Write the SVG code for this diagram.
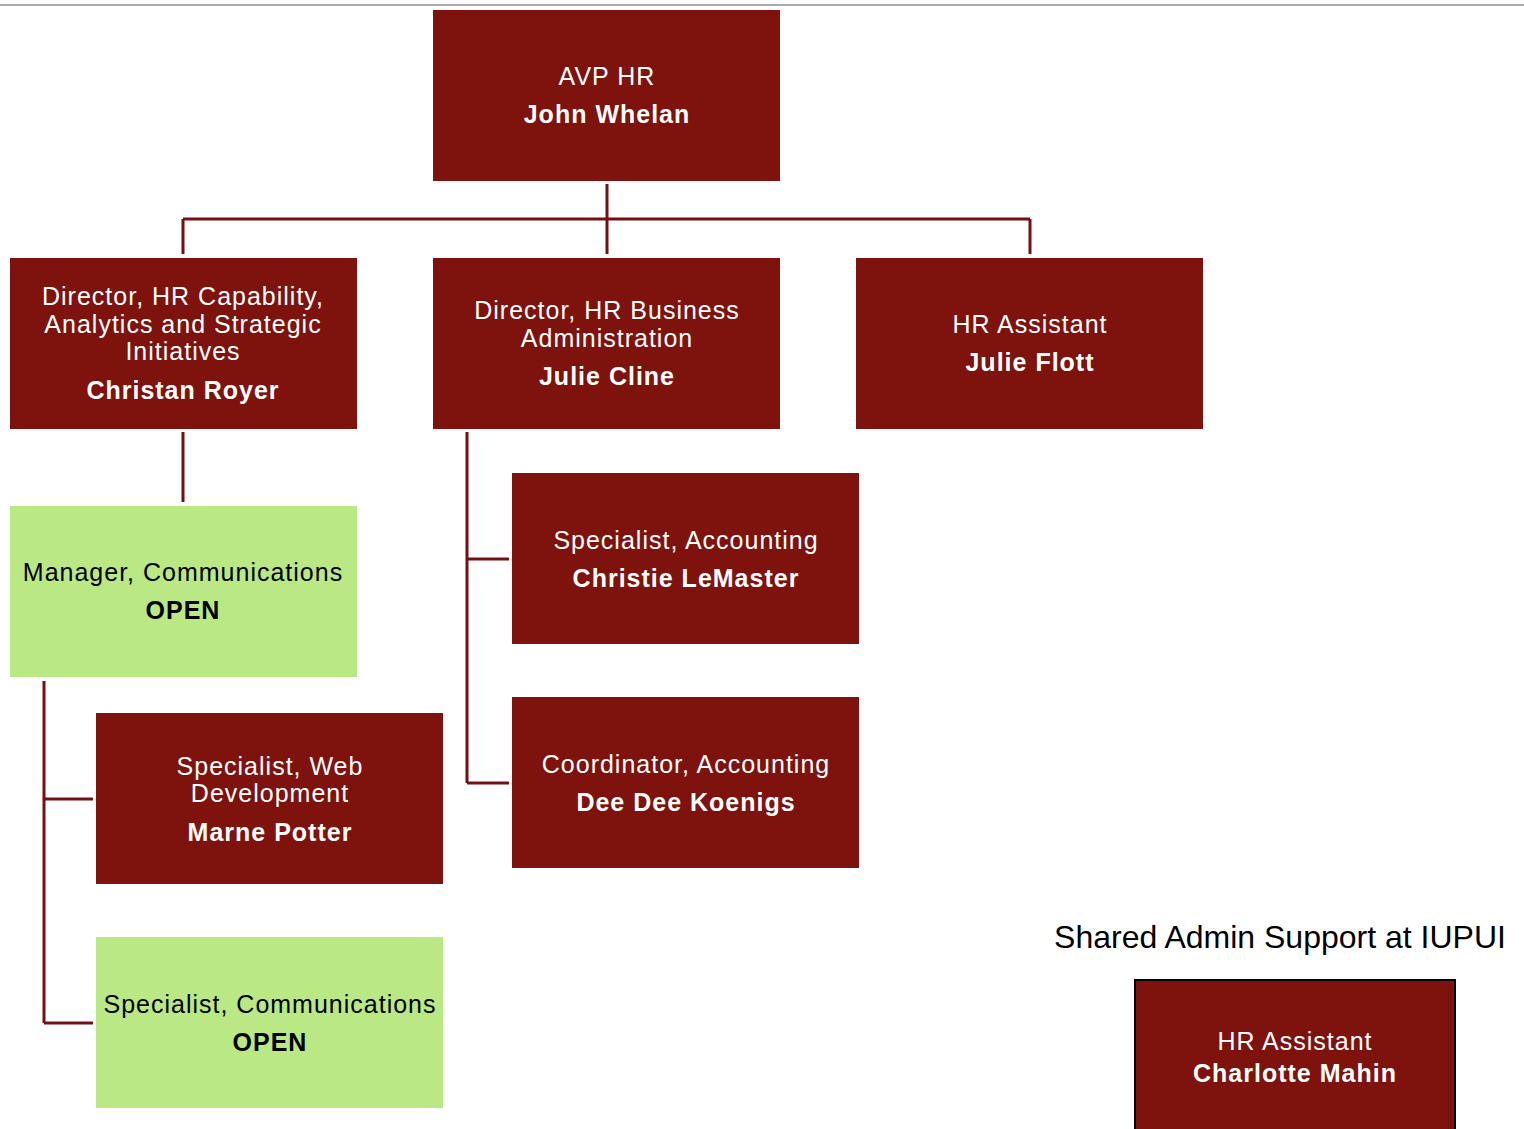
<svg xmlns="http://www.w3.org/2000/svg" width="1524" height="1129" viewBox="0 0 1524 1129">
<style>
.red{fill:#7E130E}
.green{fill:#B9E884}
.t{font-family:"Liberation Sans",Arial,sans-serif;font-size:25px;letter-spacing:1px;text-anchor:middle}
.w{fill:#fff}
.k{fill:#000}
.b{font-weight:bold}
.c{stroke:#741013;stroke-width:3;fill:none}
</style>
<rect x="0" y="4" width="1524" height="2" fill="#aaaaaa"/>
<g id="connectors">
<path class="c" d="M607 184V254M183 219H1030M183 219V254M1030 219V254"/>
<path class="c" d="M183 432V502"/>
<path class="c" d="M44 681V1023M44 799H93M44 1023H93"/>
<path class="c" d="M467 432V783M467 559H509M467 783H509"/>
</g>
<g id="avp">
<rect class="red" x="433" y="10" width="347" height="171"/>
<text class="t w" x="607" y="85">AVP HR</text>
<text class="t w b" x="607" y="123">John Whelan</text>
</g>
<g id="royer">
<rect class="red" x="10" y="258" width="347" height="171"/>
<text class="t w" x="183" y="305">Director, HR Capability,</text>
<text class="t w" x="183" y="333">Analytics and Strategic</text>
<text class="t w" x="183" y="360">Initiatives</text>
<text class="t w b" x="183" y="399">Christan Royer</text>
</g>
<g id="cline">
<rect class="red" x="433" y="258" width="347" height="171"/>
<text class="t w" x="607" y="319">Director, HR Business</text>
<text class="t w" x="607" y="347">Administration</text>
<text class="t w b" x="607" y="385">Julie Cline</text>
</g>
<g id="flott">
<rect class="red" x="856" y="258" width="347" height="171"/>
<text class="t w" x="1030" y="333">HR Assistant</text>
<text class="t w b" x="1030" y="371">Julie Flott</text>
</g>
<g id="mgr-comm">
<rect class="green" x="10" y="506" width="347" height="171"/>
<text class="t k" x="183" y="581">Manager, Communications</text>
<text class="t k b" x="183" y="619">OPEN</text>
</g>
<g id="potter">
<rect class="red" x="96" y="713" width="347" height="171"/>
<text class="t w" x="270" y="775">Specialist, Web</text>
<text class="t w" x="270" y="802">Development</text>
<text class="t w b" x="270" y="841">Marne Potter</text>
</g>
<g id="spec-comm">
<rect class="green" x="96" y="937" width="347" height="171"/>
<text class="t k" x="270" y="1013">Specialist, Communications</text>
<text class="t k b" x="270" y="1051">OPEN</text>
</g>
<g id="lemaster">
<rect class="red" x="512" y="473" width="347" height="171"/>
<text class="t w" x="686" y="549">Specialist, Accounting</text>
<text class="t w b" x="686" y="587">Christie LeMaster</text>
</g>
<g id="koenigs">
<rect class="red" x="512" y="697" width="347" height="171"/>
<text class="t w" x="686" y="773">Coordinator, Accounting</text>
<text class="t w b" x="686" y="811">Dee Dee Koenigs</text>
</g>
<text class="t k" x="1280" y="948" style="font-size:32px;letter-spacing:0">Shared Admin Support at IUPUI</text>
<g id="mahin">
<rect class="red" x="1135" y="980" width="320" height="160" stroke="#000" stroke-width="2"/>
<text class="t w" x="1295" y="1050">HR Assistant</text>
<text class="t w b" x="1295" y="1082">Charlotte Mahin</text>
</g>
</svg>
